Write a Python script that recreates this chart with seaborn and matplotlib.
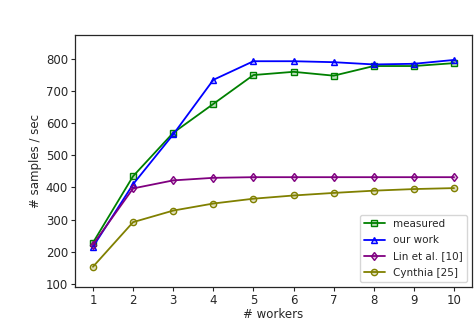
import pandas as pd
import matplotlib
matplotlib.use('Agg')
import matplotlib.pyplot as plt
import seaborn as sns
from matplotlib.colors import to_rgba

# values
workers = [1, 2, 3, 4, 5, 6, 7, 8, 9, 10]
measured = [228, 435, 570, 660, 750, 760, 748, 778, 778, 787]
our_work = [215, 410, 565, 735, 793, 793, 790, 783, 785, 797]
lin = [222, 397, 422, 430, 432, 432, 432, 432, 432, 432]
cynthia = [153, 292, 328, 350, 365, 375, 383, 390, 395, 398]

labels = ['measured', 'our work', 'Lin et al. [10]', 'Cynthia [25]']
colors = ['green', 'blue', 'purple', 'olive']
markers = ['s', '^', 'd', 'o']

sns.set_style('ticks')
plt.rcParams['font.family'] = ['DejaVu Sans']

fig = plt.figure(figsize=(4.74, 3.2), dpi=100)
ax = fig.add_axes([0.158, 0.103, 0.838, 0.788])

for vals, lab, c, m in zip([measured, our_work, lin, cynthia], labels, colors, markers):
    df = pd.DataFrame({'workers': workers, 'rate': vals})
    sns.lineplot(data=df, x='workers', y='rate', ax=ax, label=lab, color=c,
                 marker=m, markersize=4.5, markerfacecolor=to_rgba(c, 0.25),
                 markeredgecolor=c, markeredgewidth=1.0, linewidth=1.3)

ax.set_xticks(workers)
ax.set_yticks(range(100, 900, 100))
ax.set_ylim(90, 875)
ax.set_xlabel('# workers', fontsize=8.5, labelpad=1)
ax.set_ylabel('# samples / sec', fontsize=8.5, labelpad=3)
ax.tick_params(labelsize=8.5, length=3, pad=2)
for s in ax.spines.values():
    s.set_linewidth(0.9)
ax.legend(loc='lower right', fontsize=7.5, frameon=True, fancybox=True,
          borderpad=0.4, labelspacing=0.6, handlelength=2.0)

fig.savefig('out.png', dpi=100)
